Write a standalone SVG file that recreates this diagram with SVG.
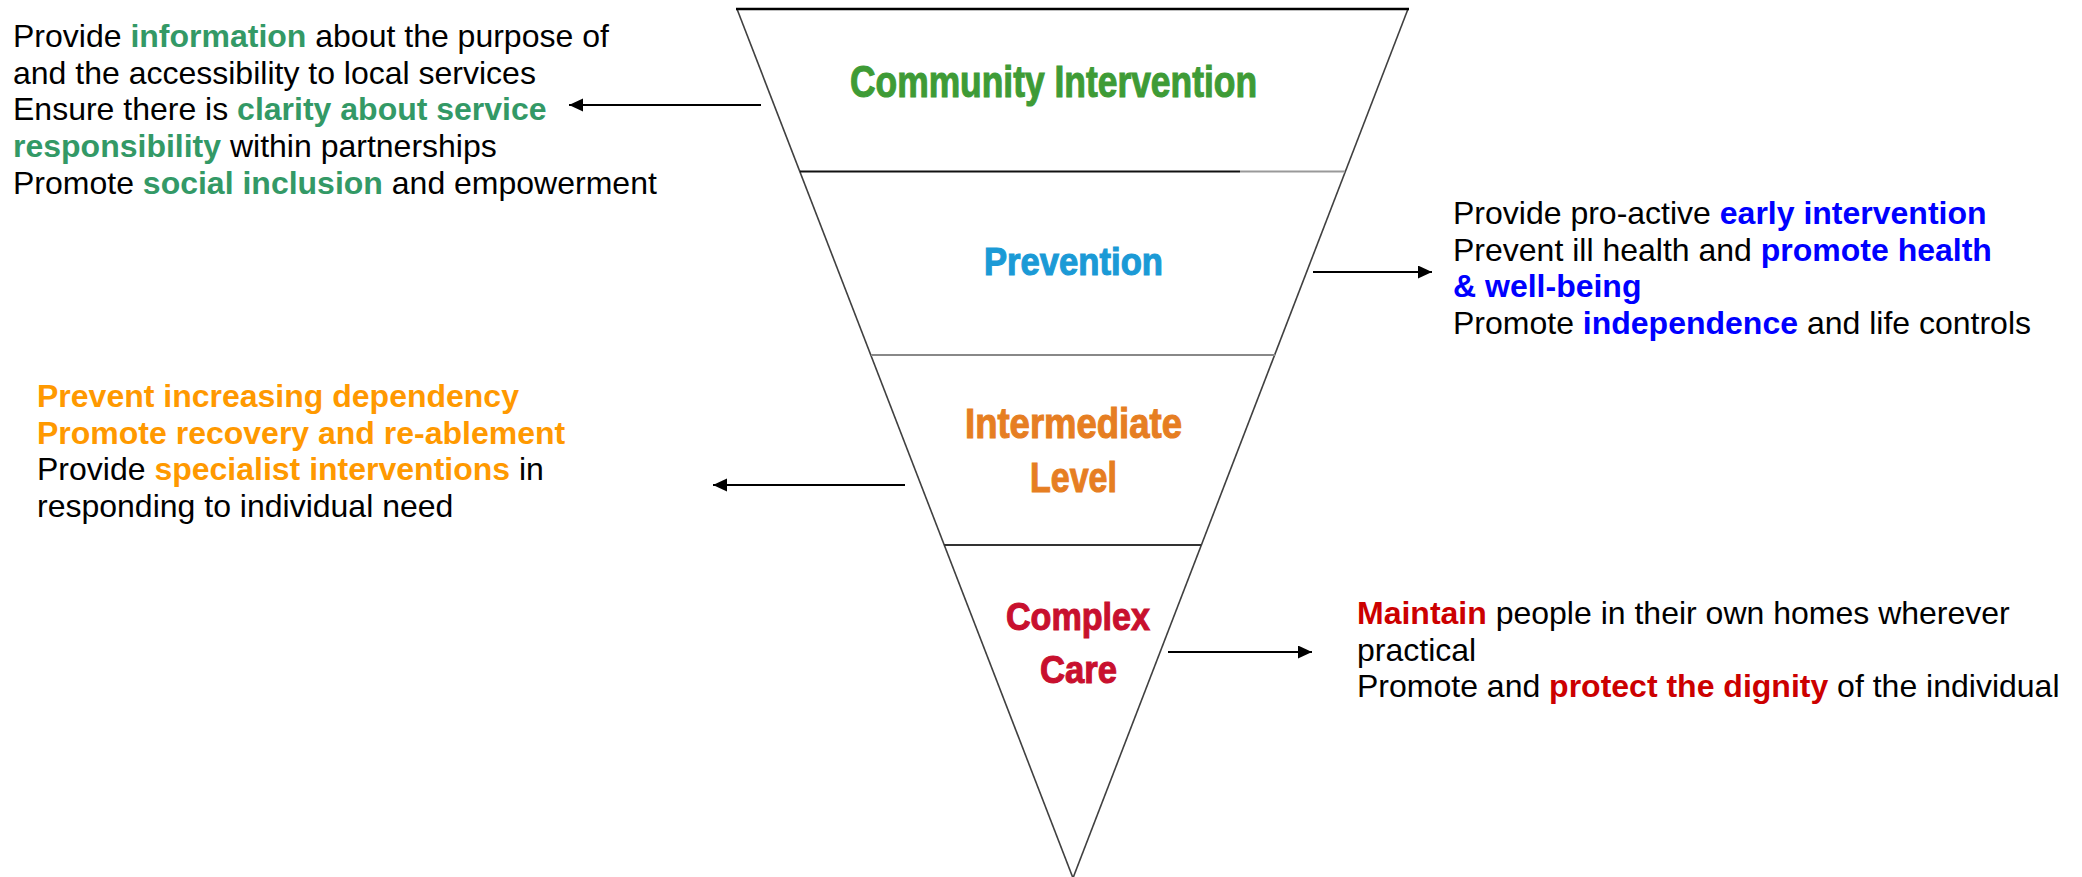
<svg xmlns="http://www.w3.org/2000/svg" width="2082" height="877" viewBox="0 0 2082 877">
<style>
  .txt { font-family: "Liberation Sans", Arial, sans-serif; font-size: 32px; fill: #000; }
  .b { font-weight: bold; }
  .g { fill: #339966; }
  .bl { fill: #0000ff; }
  .o { fill: #ff9900; }
  .r { fill: #cc0000; }
  .lbl { font-family: "Liberation Sans", Arial, sans-serif; font-weight: bold; stroke-width: 1.1; }
  .edge { stroke: #404040; stroke-width: 1.6; fill: none; }
  .conn { stroke: #000; stroke-width: 2; fill: none; }
</style>
<defs>
  <marker id="ah" markerUnits="userSpaceOnUse" markerWidth="16" markerHeight="14" refX="14" refY="6.5" orient="auto">
    <path d="M0,0 L14,6.5 L0,13 z" fill="#000"/>
  </marker>
</defs>
<rect width="2082" height="877" fill="#fff"/>

<g id="funnel">
  <line class="edge" x1="737" y1="9" x2="1073" y2="878"/>
  <line class="edge" x1="1408" y1="9" x2="1073" y2="878"/>
  <line x1="736" y1="9" x2="1409" y2="9" stroke="#000" stroke-width="2.6"/>
  <line x1="800" y1="171.5" x2="1240" y2="171.5" stroke="#111" stroke-width="2"/>
  <line x1="1240" y1="171.5" x2="1345" y2="171.5" stroke="#999" stroke-width="2"/>
  <line x1="871" y1="355" x2="1275" y2="355" stroke="#888" stroke-width="2"/>
  <line x1="944" y1="545" x2="1201" y2="545" stroke="#333" stroke-width="2"/>
</g>

<g id="level-community">
  <text class="lbl" x="850" y="97" font-size="44" fill="#3e9b36" stroke="#3e9b36" textLength="407" lengthAdjust="spacingAndGlyphs">Community Intervention</text>
</g>
<g id="level-prevention">
  <text class="lbl" x="984" y="275" font-size="38" fill="#1b9ad6" stroke="#1b9ad6" textLength="179" lengthAdjust="spacingAndGlyphs">Prevention</text>
</g>
<g id="level-intermediate">
  <text class="lbl" x="965" y="438" font-size="43" fill="#e67e22" stroke="#e67e22" textLength="217" lengthAdjust="spacingAndGlyphs">Intermediate</text>
  <text class="lbl" x="1030" y="492" font-size="43" fill="#e67e22" stroke="#e67e22" textLength="87" lengthAdjust="spacingAndGlyphs">Level</text>
</g>
<g id="level-complex">
  <text class="lbl" x="1006" y="630" font-size="39" fill="#c8102e" stroke="#c8102e" textLength="144" lengthAdjust="spacingAndGlyphs">Complex</text>
  <text class="lbl" x="1040" y="683" font-size="39" fill="#c8102e" stroke="#c8102e" textLength="77" lengthAdjust="spacingAndGlyphs">Care</text>
</g>

<g id="text-community">
  <text class="txt" x="13" y="47">Provide <tspan class="b g">information</tspan> about the purpose of</text>
  <text class="txt" x="13" y="83.5">and the accessibility to local services</text>
  <text class="txt" x="13" y="120">Ensure there is <tspan class="b g">clarity about service</tspan></text>
  <text class="txt" x="13" y="157"><tspan class="b g">responsibility</tspan> within partnerships</text>
  <text class="txt" x="13" y="194">Promote <tspan class="b g">social inclusion</tspan> and empowerment</text>
</g>

<g id="text-prevention">
  <text class="txt" x="1453" y="224">Provide pro-active <tspan class="b bl">early intervention</tspan></text>
  <text class="txt" x="1453" y="260.5">Prevent ill health and <tspan class="b bl">promote health</tspan></text>
  <text class="txt" x="1453" y="297"><tspan class="b bl">&amp; well-being</tspan></text>
  <text class="txt" x="1453" y="334">Promote <tspan class="b bl">independence</tspan> and life controls</text>
</g>

<g id="text-intermediate">
  <text class="txt b o" x="37" y="407">Prevent increasing dependency</text>
  <text class="txt b o" x="37" y="443.5">Promote recovery and re-ablement</text>
  <text class="txt" x="37" y="480">Provide <tspan class="b o">specialist interventions</tspan> in</text>
  <text class="txt" x="37" y="517">responding to individual need</text>
</g>

<g id="text-complex">
  <text class="txt" x="1357" y="624"><tspan class="b r">Maintain</tspan> people in their own homes wherever</text>
  <text class="txt" x="1357" y="661">practical</text>
  <text class="txt" x="1357" y="697">Promote and <tspan class="b r">protect the dignity</tspan> of the individual</text>
</g>

<g id="connectors">
  <line class="conn" x1="761" y1="105" x2="569" y2="105" marker-end="url(#ah)"/>
  <line class="conn" x1="1313" y1="272" x2="1432" y2="272" marker-end="url(#ah)"/>
  <line class="conn" x1="905" y1="485" x2="713" y2="485" marker-end="url(#ah)"/>
  <line class="conn" x1="1168" y1="652" x2="1312" y2="652" marker-end="url(#ah)"/>
</g>
</svg>
